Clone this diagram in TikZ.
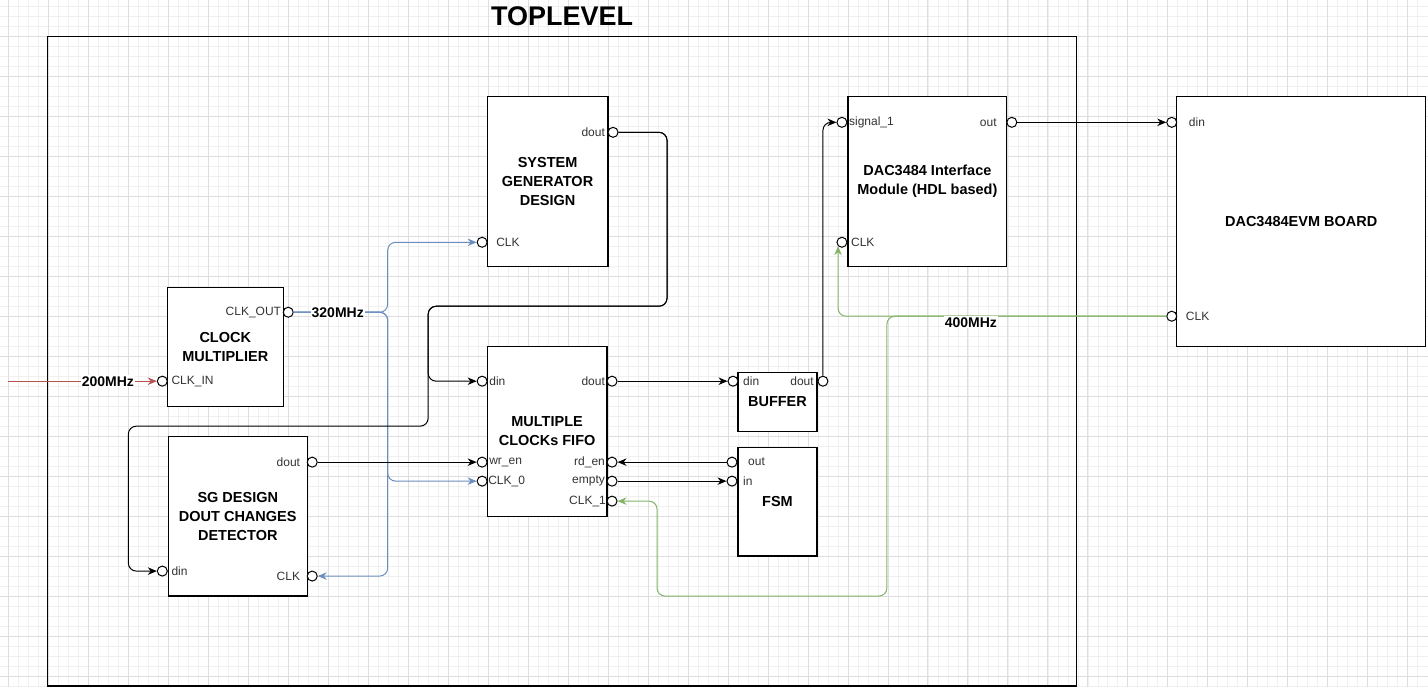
\documentclass[tikz,border=0pt]{standalone}
\usepackage{fontspec}
\setmainfont{Liberation Sans}
\usetikzlibrary{arrows.meta}
\definecolor{clkred}{HTML}{B85450}
\definecolor{clkblue}{HTML}{6C8EBF}
\definecolor{clkgreen}{HTML}{82B366}
\definecolor{plab}{HTML}{333333}

\begin{document}
\begin{tikzpicture}[x=1pt,y=-1pt,
    block/.style={draw,line width=1.2pt,fill=white,align=center,inner sep=0pt,
      font=\bfseries\fontsize{14.5}{19}\selectfont},
    port/.style={circle,draw,fill=white,line width=1pt,minimum size=10pt,inner sep=0pt},
    plabel/.style={inner sep=0pt,text=plab,font=\fontsize{12}{14}\selectfont},
    elabel/.style={fill=white,inner sep=1pt,font=\bfseries\fontsize{14}{16}\selectfont},
    wire/.style={line width=1pt,rounded corners=8pt,-{Stealth[length=9pt,width=7.5pt]}}]
 % background grid
 \fill[white] (0,0) rectangle (1428,687);
 \foreach \x in {8,18,...,1418} \draw[black!6,line width=.6pt] (\x,0) -- (\x,687);
 \foreach \y in {6,16,...,686} \draw[black!6,line width=.6pt] (0,\y) -- (1428,\y);
 \foreach \x in {8,48,...,1408} \draw[black!13,line width=.8pt] (\x,0) -- (\x,687);
 \foreach \y in {36,76,...,676} \draw[black!13,line width=.8pt] (0,\y) -- (1428,\y);
 \useasboundingbox (0,0) rectangle (1428,687);
 % top level frame
 \draw[line width=1.2pt] (47,36) rectangle (1077,686);
 \node[font=\bfseries\fontsize{27}{30}\selectfont] (title) at (562,16) {TOPLEVEL};
 % blocks
 \node[block,minimum width=116,minimum height=119] (clkmul) at (225,346.5) {CLOCK\\MULTIPLIER};
 \node[block,minimum width=121,minimum height=170] (sgd) at (547.5,181) {SYSTEM\\GENERATOR\\DESIGN};
 \node[block,minimum width=139,minimum height=160] (det) at (237.5,516) {SG DESIGN\\DOUT CHANGES\\DETECTOR};
 \node[block,minimum width=120,minimum height=170] (fifo) at (547,431) {MULTIPLE\\CLOCKs FIFO};
 \node[block,minimum width=79,minimum height=59] (buf) at (777.5,401.5) {BUFFER};
 \node[block,minimum width=79,minimum height=109] (fsm) at (777.5,501.5) {FSM};
 \node[block,minimum width=159,minimum height=170] (dacif) at (927.5,181) {DAC3484 Interface\\Module (HDL based)};
 \node[block,minimum width=249,minimum height=250] (evm) at (1301.5,221) {DAC3484EVM BOARD};
 % ports: name/x/y/text/label x/anchor
 \foreach \n/\x/\y/\t/\lx/\a in {
   clkin/162/381/CLK\_IN/171/west, clkout/288/312/CLK\_OUT/281/east,
   sgddout/613/132/dout/605/east, sgdclk/482/242/CLK/496/west,
   fifodin/482/381/din/489/west, fifowren/482/462/wr\_en/489/west,
   fifoclk0/482/481/CLK\_0/488/west, fifodout/612/381/dout/605/east,
   fiforden/612/462/rd\_en/605/east, fifoempty/612/481/empty/605/east,
   fifoclk1/612/501/CLK\_1/606/east,
   detdout/312/462/dout/300/east, detclk/312/576/CLK/300/east,
   detdin/162/571/din/171/west,
   bufdin/733/381/din/743/west, bufdout/823/381/dout/814/east,
   fsmout/732/462/out/748/west, fsmin/732/481/in/743/west,
   dacsig/842/122/signal\_1/849/west, dacout/1012/122/out/997/east,
   dacclk/842/242/CLK/851/west,
   evmdin/1172/122/din/1189/west, evmclk/1172/316/CLK/1186/west}
 {\node[port] (\n) at (\x,\y) {};
  \node[plabel,anchor=\a] (\n-l) at (\lx,\y) {\t};}
 % connections
 \coordinate (ext) at (8,381);
 \draw[wire,clkred] (ext) -- (clkin.west);
 \foreach \p in {sgdclk,fifoclk0}
  \draw[wire,clkblue] (clkout.east) -- ++(94,0) |- (\p.west);
 \draw[wire,clkblue] (clkout.east) -- ++(94,0) |- (detclk.east);
 \draw[wire] (sgddout.east) -| (667,306) -| (428,381) -- (fifodin.west);
 \draw[wire] (sgddout.east) -| (667,306) -| (428,426) -- (128,426) |- (detdin.west);
 \draw[wire] (detdout.east) -- (fifowren.west);
 \draw[wire] (fifodout.east) -- (bufdin.west);
 \draw[wire] (bufdout.north) |- (dacsig.west);
 \draw[wire] (dacout.east) -- (evmdin.west);
 \draw[wire] (fsmout.west) -- (fiforden.east);
 \draw[wire] (fifoempty.east) -- (fsmin.west);
 \draw[wire,clkgreen] (evmclk.west) -| (dacclk.south west);
 \draw[wire,clkgreen] (evmclk.west) -| (887,596) -| (657,501) -- (fifoclk1.east);
 % frequency labels
 \node[elabel] (f200) at (107.5,381) {200MHz};
 \node[elabel] (f320) at (337.5,312) {320MHz};
 \node[elabel] (f400) at (971,322) {400MHz};
\end{tikzpicture}
\end{document}
